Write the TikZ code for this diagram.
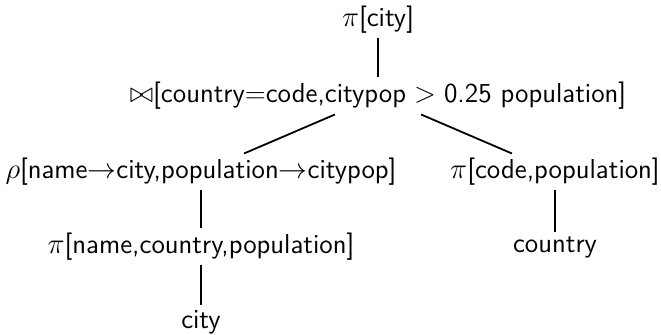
\documentclass[tikz,border=0pt]{standalone}
\usepackage{amssymb}
\begin{document}
\begin{tikzpicture}[x=0.5pt, y=-0.5pt, op/.style={font=\fontsize{13.7pt}{16.5pt}\selectfont\sffamily, inner sep=2.2pt}]
  \useasboundingbox (0, 0) rectangle (661, 335);
  \node (proj) at (378, 20) [op] {$\pi$[city]};
  \node (join) at (378, 96) [op] {$\bowtie$[country=code,citypop${}>{}$0.25 population]};
  \node (ren) at (201, 172) [op] {$\rho$[name$\rightarrow$city,population$\rightarrow$citypop]};
  \node (pcode) at (555, 172) [op] {$\pi$[code,population]};
  \node (pname) at (201, 247) [op] {$\pi$[name,country,population]};
  \node (country) at (555, 247) [op] {country};
  \node (city) at (201, 322) [op] {city};
  \draw[line width=0.9pt] (proj) -- (join);
  \draw[line width=0.9pt] (join) -- (ren);
  \draw[line width=0.9pt] (join) -- (pcode);
  \draw[line width=0.9pt] (ren) -- (pname);
  \draw[line width=0.9pt] (pname) -- (city);
  \draw[line width=0.9pt] (pcode) -- (country);
\end{tikzpicture}
\end{document}
